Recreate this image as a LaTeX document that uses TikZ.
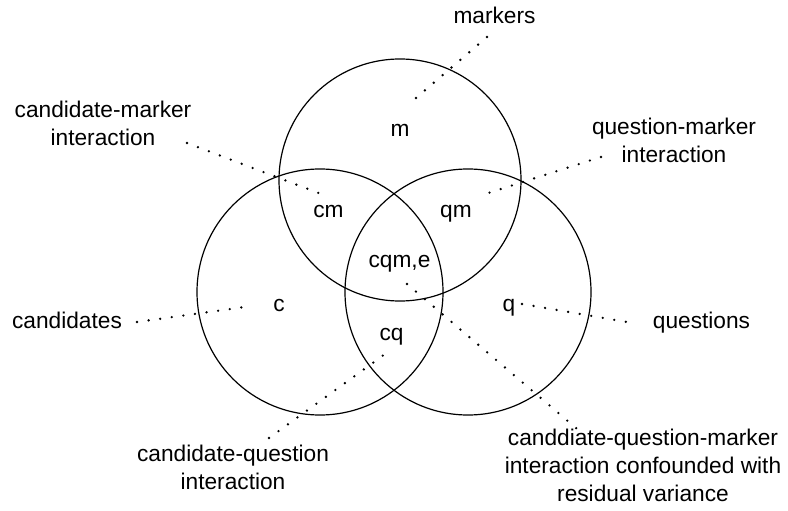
\documentclass[tikz,border=0pt]{standalone}
\usepackage{fontspec}
\setmainfont{Liberation Sans}
\begin{document}
\begin{tikzpicture}[x=1bp, y=-1bp,
  setring/.style={circle, draw, line width=1.2bp, inner sep=0pt, minimum size=#1},
  lbl/.style={font=\fontsize{22.7bp}{27bp}\selectfont, inner sep=0pt, anchor=base, align=center},
  dotline/.style={line width=2.6bp, line cap=round, dash pattern=on 0bp off 11.7bp}]
\useasboundingbox (0,0) rectangle (788,511);

% the three factor sets
\node[setring=242bp] (setM) at (400,180) {};
\node[setring=246bp] (setC) at (320,292) {};
\node[setring=246bp] (setQ) at (468,292) {};

% region labels
\node[lbl] (m)   at (400,137) {m};
\node[lbl] (cm)  at (328.5,218) {cm};
\node[lbl] (qm)  at (456,218) {qm};
\node[lbl] (cqm) at (399.5,268) {cqm,e};
\node[lbl] (c)   at (279,312) {c};
\node[lbl] (q)   at (509,312) {q};
\node[lbl] (cq)  at (391.5,340) {cq};

% outer captions (base = baseline of the last line)
\node[lbl] (markers)    at (494.5,24) {markers};
\node[lbl] (candmark)   at (103,146) {candidate-marker\\[1bp]interaction};
\node[lbl] (questmark)  at (674,163) {question-marker\\[1bp]interaction};
\node[lbl] (candidates) at (67,328.5) {candidates};
\node[lbl] (questions)  at (701.5,328.5) {questions};
\node[lbl] (candquest)  at (233,489) {candidate-question\\[1bp]interaction};
\node[lbl] (threeway)   at (643,501) {canddiate-question-marker\\[1bp]interaction confounded with\\[1bp]residual variance};

% ends of the dotted leaders
\coordinate (markers-end)  at (487,37);
\coordinate (m-end)        at (416,98);
\coordinate (candmark-end) at (187,143);
\coordinate (cm-end)       at (329,197);
\coordinate (questmark-end) at (601,157);
\coordinate (qm-end)       at (479,196);
\coordinate (candidates-end) at (137,322);
\coordinate (c-end)        at (252,306);
\coordinate (q-end)        at (522,304);
\coordinate (questions-end) at (627,322);
\coordinate (candquest-end) at (269,438);
\coordinate (cq-end)       at (392,349);
\coordinate (cqm-end)      at (407,284);
\coordinate (threeway-end) at (583,434);

% dotted leaders
\draw[dotline] (markers-end) -- (m-end);
\draw[dotline] (candmark-end) -- (cm-end);
\draw[dotline] (questmark-end) -- (qm-end);
\draw[dotline] (candidates-end) -- (c-end);
\draw[dotline] (q-end) -- (questions-end);
\draw[dotline] (candquest-end) -- (cq-end);
\draw[dotline] (cqm-end) -- (threeway-end);
\end{tikzpicture}
\end{document}
